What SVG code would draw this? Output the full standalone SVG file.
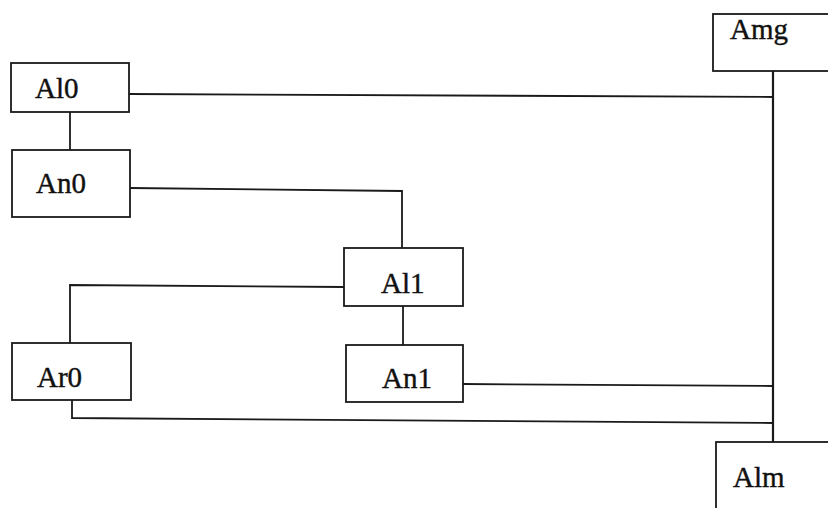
<svg xmlns="http://www.w3.org/2000/svg" width="828" height="508" viewBox="0 0 828 508">
<style>
.box{fill:#fff;stroke:#1a1a1a;stroke-width:1.8}
.lbl{font-family:"Liberation Serif","Times New Roman",serif;font-size:29px;fill:#111;stroke:#111;stroke-width:0.4}
.conn{fill:none;stroke:#1a1a1a;stroke-width:1.8}
</style>
<rect width="828" height="508" fill="#fff"/>
<g id="connectors">
<path class="conn" d="M129,94 L773,97"/>
<path class="conn" d="M70,112 L70,150"/>
<path class="conn" d="M130,188 L402,191 L402,248"/>
<path class="conn" d="M344,287 L70,285 L70,343"/>
<path class="conn" d="M403,306 L403,345"/>
<path class="conn" d="M463,384 L773,386"/>
<path class="conn" d="M72,400 L72,418 L773,423"/>
<path class="conn" d="M773,71 L773,442" style="stroke-width:2.2"/>
</g>
<g id="Al0"><rect class="box" x="11" y="63" width="118" height="49"/><text class="lbl" x="35" y="98">Al0</text></g>
<g id="An0"><rect class="box" x="12" y="150" width="118" height="67"/><text class="lbl" x="36" y="193">An0</text></g>
<g id="Al1"><rect class="box" x="344" y="248" width="119" height="58"/><text class="lbl" x="381" y="293">Al1</text></g>
<g id="An1"><rect class="box" x="346" y="345" width="117" height="57"/><text class="lbl" x="382" y="388">An1</text></g>
<g id="Ar0"><rect class="box" x="12" y="343" width="119" height="57"/><text class="lbl" x="37" y="387">Ar0</text></g>
<g id="Amg"><rect class="box" x="713" y="14" width="130" height="57"/><text class="lbl" x="730" y="39">Amg</text></g>
<g id="Alm"><rect class="box" x="716" y="442" width="130" height="80"/><text class="lbl" x="733" y="487">Alm</text></g>
</svg>
